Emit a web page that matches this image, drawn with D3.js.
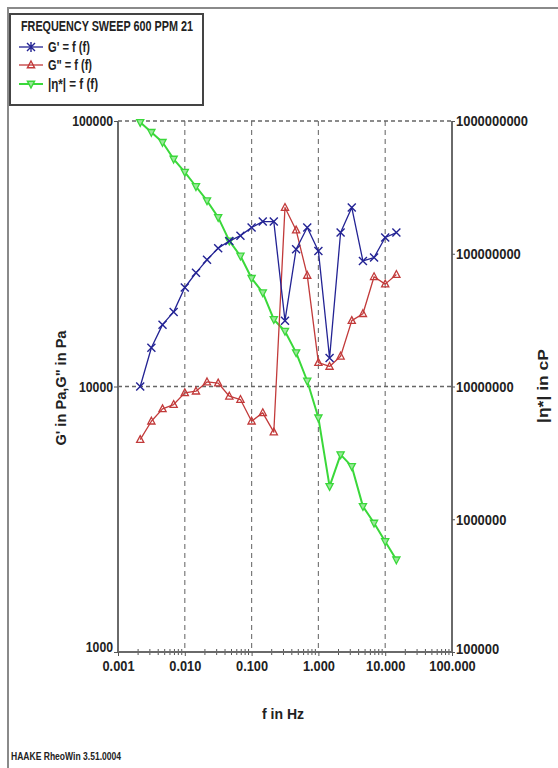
<!DOCTYPE html>
<html>
<head>
<meta charset="utf-8">
<script src="https://cdn.jsdelivr.net/npm/d3@7/dist/d3.min.js"></script>
<style>
  html, body { margin: 0; padding: 0; background: #fff; }
  svg { display: block; }
  text { font-family: "Liberation Sans", Arial, sans-serif; font-weight: bold; fill: #222; }
</style>
</head>
<body>
<script>
// Frequency sweep, 600 ppm sample 21 — oscillation measurement
const freqHz = [0.00215, 0.00316, 0.00464, 0.00681, 0.0100, 0.0147, 0.0215, 0.0316,
                0.0464, 0.0681, 0.100, 0.147, 0.215, 0.316, 0.464, 0.681,
                1.00, 1.47, 2.15, 3.16, 4.64, 6.81, 10.0, 14.7];
// G' in Pa
const storageModulus = [10000, 14000, 17100, 19100, 23600, 26800, 30000, 33200,
                        35300, 37000, 39700, 41800, 41800, 17700, 32900, 39700,
                        32400, 12800, 38000, 47200, 29700, 30600, 36400, 38000];
// G'' in Pa
const lossModulus = [6310, 7400, 8240, 8550, 9460, 9600, 10400, 10300,
                     9190, 8930, 7400, 7960, 6730, 47200, 38800, 26200,
                     12300, 11900, 13000, 17700, 18800, 25900, 24300, 26400];
// |η*| in cP
const complexViscosity = [9.77e8, 8.22e8, 6.91e8, 5.17e8, 4.12e8, 3.21e8, 2.51e8, 1.88e8,
                          1.25e8, 9.62e7, 6.53e7, 5.09e7, 3.20e7, 2.61e7, 1.80e7, 1.10e7,
                          5.81e6, 1.77e6, 3.07e6, 2.50e6, 1.25e6, 9.36e5, 6.80e5, 4.95e5];

const xTicks = [0.001, 0.01, 0.1, 1, 10, 100];
const xTickLabels = ["0.001", "0.010", "0.100", "1.000", "10.000", "100.000"];
const yLeftTicks = [1000, 10000, 100000];
const yLeftTickLabels = ["1000", "10000", "100000"];
const yRightTicks = [1e5, 1e6, 1e7, 1e8, 1e9];
const yRightTickLabels = ["100000", "1000000", "10000000", "100000000", "1000000000"];

const legendTitle = "FREQUENCY SWEEP 600 PPM 21";
const seriesNames = ["G' = f (f)", "G\" = f (f)", "|η*| = f (f)"];
const seriesColors = ["#232394", "#c23a3a", "#3ad83a"];

const W = 558, H = 768;
const plot = { left: 118, right: 452, top: 121, bottom: 652 };

const svg = d3.select("body").append("svg").attr("width", W).attr("height", H);

// The instrument software prints in a narrow face: squeeze text to its width
function squeeze(sel, width) {
  sel.attr("textLength", width).attr("lengthAdjust", "spacingAndGlyphs");
  return sel;
}
const numWidth = (str, digitW) => [...str].reduce((a, c) => a + (c === "." ? 3.2 : digitW), 0);

const x = d3.scaleLog().domain([0.001, 100]).range([plot.left, plot.right]);
const yL = d3.scaleLog().domain([1000, 100000]).range([plot.bottom, plot.top]);
const yR = d3.scaleLog().domain([1e5, 1e9]).range([plot.bottom, plot.top]);

// Page frame (top and left edges)
svg.append("path")
  .attr("d", `M8,${H} L8,8 L${W},8`)
  .attr("fill", "none").attr("stroke", "#8a8a8a").attr("stroke-width", 2);

// Dashed grid
const grid = svg.append("g");
grid.selectAll("line.v").data(xTicks.slice(1, -1)).join("line")
  .attr("x1", d => x(d)).attr("x2", d => x(d))
  .attr("y1", plot.top).attr("y2", plot.bottom)
  .attr("stroke", "#7a7a7a").attr("stroke-width", 1.2).attr("stroke-dasharray", "5,4");
grid.selectAll("line.h").data([10000, 100000]).join("line")
  .attr("x1", plot.left).attr("x2", plot.right)
  .attr("y1", d => yL(d)).attr("y2", d => yL(d))
  .attr("stroke", "#666").attr("stroke-width", 1.6).attr("stroke-dasharray", "4,3");

// Minor ticks on the frequency axis
const minor = [];
for (let e = -3; e < 2; e++) for (let m = 2; m <= 9; m++) minor.push(m * Math.pow(10, e));
svg.append("g").selectAll("line").data(minor).join("line")
  .attr("x1", d => x(d)).attr("x2", d => x(d))
  .attr("y1", plot.bottom - 3).attr("y2", plot.bottom + 3)
  .attr("stroke", "#555").attr("stroke-width", 1);

// Axes
const fmt = (vals, labels) => d => labels[vals.indexOf(d)];
const axB = svg.append("g").attr("transform", `translate(0,${plot.bottom})`)
  .call(d3.axisBottom(x).tickValues(xTicks).tickFormat(fmt(xTicks, xTickLabels)).tickSize(4).tickPadding(2));
const axL = svg.append("g").attr("transform", `translate(${plot.left},0)`)
  .call(d3.axisLeft(yL).tickValues(yLeftTicks).tickFormat(fmt(yLeftTicks, yLeftTickLabels)).tickSize(4).tickPadding(1));
const axR = svg.append("g").attr("transform", `translate(${plot.right},0)`)
  .call(d3.axisRight(yR).tickValues(yRightTicks).tickFormat(fmt(yRightTicks, yRightTickLabels)).tickSize(3).tickPadding(1));

[axB, axL, axR].forEach(a => {
  a.select(".domain").attr("stroke", "#6a6a6a").attr("stroke-width", 2);
  a.selectAll(".tick line").attr("stroke", "#555");
  a.selectAll(".tick text").attr("font-size", 15).attr("fill", "#222")
    .style("font-family", null);
});
axB.select(".domain").attr("d", `M${plot.left},0H${plot.right}`);
axL.select(".domain").attr("d", `M0,${plot.top}V${plot.bottom}`);
axR.select(".domain").attr("d", `M0,${plot.top}V${plot.bottom}`);
axB.selectAll(".tick text").attr("dy", "0.85em")
  .each(function (d) { squeeze(d3.select(this), numWidth(xTickLabels[xTicks.indexOf(d)], 7.2)); });
axL.selectAll(".tick text")
  .each(function (d) { squeeze(d3.select(this), numWidth(yLeftTickLabels[yLeftTicks.indexOf(d)], 6.8)); });
axL.selectAll(".tick text").filter(d => d === 1000).attr("dy", "-0.05em");
axR.selectAll(".tick text")
  .each(function (d) { squeeze(d3.select(this), numWidth(yRightTickLabels[yRightTicks.indexOf(d)], 7.2)); });
axR.selectAll(".tick text").filter(d => d === 1e5).attr("dy", "0.1em");

// Axis titles
squeeze(svg.append("text").attr("x", 283).attr("y", 719).attr("text-anchor", "middle")
  .attr("font-size", 15).text("f in Hz"), 42);
squeeze(svg.append("text").attr("transform", "translate(66,388) rotate(-90)").attr("text-anchor", "middle")
  .attr("font-size", 15).text("G' in Pa,G\" in Pa"), 115);
squeeze(svg.append("text").attr("transform", "translate(548,386) rotate(-90)").attr("text-anchor", "middle")
  .attr("font-size", 15).text("|η*| in cP"), 74);

// Series
const series = [
  { values: storageModulus, y: yL, color: seriesColors[0], marker: "cross", width: 1.3 },
  { values: lossModulus, y: yL, color: seriesColors[1], marker: "up", width: 1.3 },
  { values: complexViscosity, y: yR, color: seriesColors[2], marker: "down", width: 2 }
];

function markerPath(type, s) {
  if (type === "cross") return `M${-s},${-s}L${s},${s}M${-s},${s}L${s},${-s}`;
  if (type === "up") return `M0,${-s}L${s * 0.9},${s * 0.7}L${-s * 0.9},${s * 0.7}Z`;
  return `M0,${s}L${s * 0.9},${-s * 0.7}L${-s * 0.9},${-s * 0.7}Z`;
}

const drawOrder = [2, 1, 0];
drawOrder.forEach(k => {
  const s = series[k];
  const pts = freqHz.map((f, i) => [x(f), s.y(s.values[i])]);
  const g = svg.append("g");
  g.append("path").datum(pts)
    .attr("d", d3.line())
    .attr("fill", "none").attr("stroke", s.color).attr("stroke-width", s.width)
    .attr("stroke-linejoin", "round");
  g.selectAll("path.m").data(pts).join("path")
    .attr("class", "m")
    .attr("transform", d => `translate(${d[0]},${d[1]})`)
    .attr("d", markerPath(s.marker, 4))
    .attr("fill", s.marker === "down" ? "#9be89b" : "none")
    .attr("stroke", s.color).attr("stroke-width", s.marker === "cross" ? 1.4 : 1.3);
});

// Legend
const lg = svg.append("g");
lg.append("rect").attr("x", 10).attr("y", 14).attr("width", 193).attr("height", 91)
  .attr("fill", "#fff").attr("stroke", "#444").attr("stroke-width", 2);
squeeze(lg.append("text").attr("x", 21).attr("y", 31).attr("font-size", 14).text(legendTitle), 172);
const rowsY = [47, 65, 84];
const nameWidths = [42, 44, 50];
series.forEach((s, k) => {
  const cy = rowsY[k];
  lg.append("line").attr("x1", 19).attr("x2", 43).attr("y1", cy).attr("y2", cy)
    .attr("stroke", s.color).attr("stroke-width", s.width);
  lg.append("path").attr("transform", `translate(31,${cy})`)
    .attr("d", k === 0 ? markerPath(s.marker, 4) + "M0,-5L0,5" : markerPath(s.marker, 4))
    .attr("fill", s.marker === "down" ? "#9be89b" : "none")
    .attr("stroke", s.color).attr("stroke-width", 1.4);
  squeeze(lg.append("text").attr("x", 48).attr("y", cy + 5).attr("font-size", 15).text(seriesNames[k]), nameWidths[k]);
});

// Software footer
squeeze(svg.append("text").attr("x", 11).attr("y", 760).attr("font-size", 10).text("HAAKE RheoWin 3.51.0004"), 110);
</script>
</body>
</html>
